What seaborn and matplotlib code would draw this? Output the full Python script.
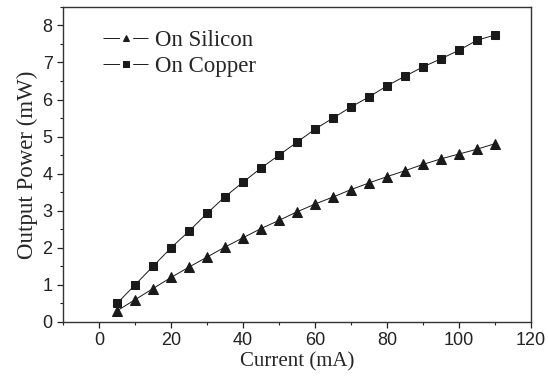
import matplotlib
matplotlib.use("Agg")
import matplotlib.pyplot as plt
import pandas as pd
import seaborn as sns
from matplotlib.ticker import MultipleLocator

# Data
current_ma = [5, 10, 15, 20, 25, 30, 35, 40, 45, 50, 55,
              60, 65, 70, 75, 80, 85, 90, 95, 100, 105, 110]
power_silicon = [0.30, 0.60, 0.90, 1.20, 1.48, 1.75, 2.02, 2.27, 2.52, 2.74, 2.97,
                 3.18, 3.37, 3.57, 3.75, 3.92, 4.08, 4.25, 4.40, 4.53, 4.66, 4.81]
power_copper = [0.50, 1.00, 1.50, 2.00, 2.45, 2.93, 3.38, 3.77, 4.15, 4.50, 4.85,
                5.20, 5.50, 5.80, 6.07, 6.37, 6.63, 6.88, 7.10, 7.33, 7.60, 7.74]
series_names = ["On Silicon", "On Copper"]

df = pd.DataFrame({
    "Current": current_ma * 2,
    "Power": power_silicon + power_copper,
    "Sample": [series_names[0]] * len(current_ma) + [series_names[1]] * len(current_ma),
})

sns.set_theme(style="ticks")
plt.rcParams["font.family"] = ["Liberation Sans", "DejaVu Sans"]

fig = plt.figure(figsize=(5.48, 3.81), dpi=100)
ax = fig.add_axes([0.115, 0.155, 0.854, 0.827])

sns.lineplot(
    data=df, x="Current", y="Power", hue="Sample", style="Sample",
    markers={"On Silicon": "^", "On Copper": "s"}, dashes=False,
    palette={"On Silicon": "#1a1a1a", "On Copper": "#1a1a1a"},
    linewidth=0.7, markersize=5.5, markeredgecolor="#1a1a1a",
    ax=ax,
)
# triangles look a bit larger than squares in the original
for line in ax.lines:
    if line.get_marker() == "^":
        line.set_markersize(6.5)

ax.set_xlim(-10, 120)
ax.set_ylim(0, 8.5)
ax.xaxis.set_major_locator(MultipleLocator(20))
ax.xaxis.set_minor_locator(MultipleLocator(10))
ax.yaxis.set_major_locator(MultipleLocator(1))
ax.yaxis.set_minor_locator(MultipleLocator(0.5))
ax.tick_params(which="both", direction="out", top=False, right=False, colors="#222222")
ax.tick_params(which="major", length=4, width=0.9, labelsize=13)
ax.tick_params(which="minor", length=2.5, width=0.8)
for side in ["top", "right", "left", "bottom"]:
    ax.spines[side].set_visible(True)
    ax.spines[side].set_linewidth(1.0)
    ax.spines[side].set_color("#333333")

serif = ["Liberation Serif", "DejaVu Serif"]
ax.set_xlabel("Current (mA)", fontsize=15, family=serif, labelpad=2)
ax.set_ylabel("Output Power (mW)", fontsize=16.5, family=serif, labelpad=3)

leg = ax.legend(
    loc="upper left", bbox_to_anchor=(0.065, 0.955), frameon=False,
    prop={"family": serif, "size": 16.5}, handlelength=2.0,
    handletextpad=0.3, labelspacing=0.2, borderaxespad=0,
)
# legend handles: short line pieces with a gap around a small marker
for h in leg.legend_handles:
    h.set_markersize(4.5)
    h.set_linewidth(0.7)
    h.set_linestyle((0, (17.0, 13.5)))

fig.savefig("out.png", dpi=100)
